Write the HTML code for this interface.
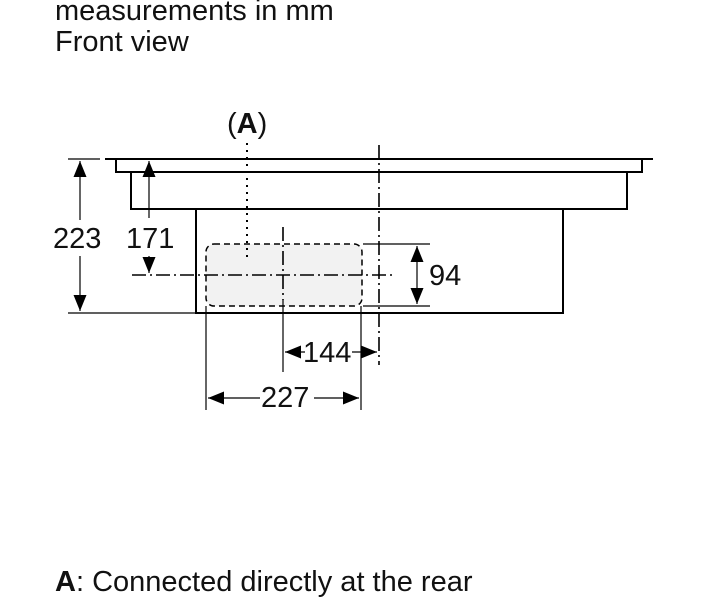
<!DOCTYPE html>
<html><head><style>
body{margin:0;background:#fff;width:710px;height:600px;overflow:hidden;font-family:"Liberation Sans",sans-serif}
.t{position:absolute;left:55px;font-size:29px;color:#111;line-height:30px}
</style></head><body>
<div class="t" style="top:-4px">measurements in mm</div>
<div class="t" style="top:27px">Front view</div>
<div class="t" style="top:567px"><b>A</b>: Connected directly at the rear</div>
<svg width="710" height="600" style="position:absolute;left:0;top:0" font-family="Liberation Sans" fill="none" stroke="#000">
<defs><marker id="a" viewBox="0 0 10 10" refX="10" refY="5" markerWidth="16" markerHeight="13" orient="auto-start-reverse" markerUnits="userSpaceOnUse" preserveAspectRatio="none"><path d="M0,0L10,5L0,10z" fill="#000" stroke="none"/></marker></defs>
<rect x="206" y="244" width="156" height="62" rx="8" fill="#f2f2f2" stroke-dasharray="6,4" stroke-width="1.5"/>
<g stroke-width="2">
<path d="M105 159H653M116 159V172H642V159M131 172V209H627V172M196 209V313H563V209"/>
</g>
<g stroke-width="1.2">
<path d="M68 159H100M68 313H196M140 159H157M363 244H430M363 306H430M206 306V410M361 306V410M283 300V372"/>
<line x1="80" y1="161" x2="80" y2="220" marker-start="url(#a)"/>
<line x1="80" y1="256" x2="80" y2="311" marker-end="url(#a)"/>
<line x1="149" y1="161" x2="149" y2="218" marker-start="url(#a)"/>
<line x1="149" y1="256" x2="149" y2="273" marker-end="url(#a)"/>
<line x1="417" y1="246" x2="417" y2="304" marker-start="url(#a)" marker-end="url(#a)"/>
<line x1="285" y1="352" x2="305" y2="352" marker-start="url(#a)"/>
<line x1="352" y1="352" x2="377" y2="352" marker-end="url(#a)"/>
<line x1="208" y1="398" x2="260" y2="398" marker-start="url(#a)"/>
<line x1="314" y1="398" x2="359" y2="398" marker-end="url(#a)"/>
</g>
<g stroke-width="1.6">
<path d="M132 275H393" stroke-dasharray="14,4,2,4"/>
<path d="M379 145V365" stroke-dasharray="14,4,2,4"/>
<path d="M283 227V300" stroke-dasharray="14,4,2,4"/>
<path d="M247 143V262" stroke-dasharray="2,5" stroke-width="2"/>
</g>
<g fill="#111" stroke="none" font-size="29">
<text x="53" y="248">223</text>
<text x="126" y="248">171</text>
<text x="429" y="285">94</text>
<text x="303" y="362">144</text>
<text x="261" y="407">227</text>
<text x="227" y="133">(<tspan font-weight="bold">A</tspan>)</text>
</g>
</svg>
</body></html>
